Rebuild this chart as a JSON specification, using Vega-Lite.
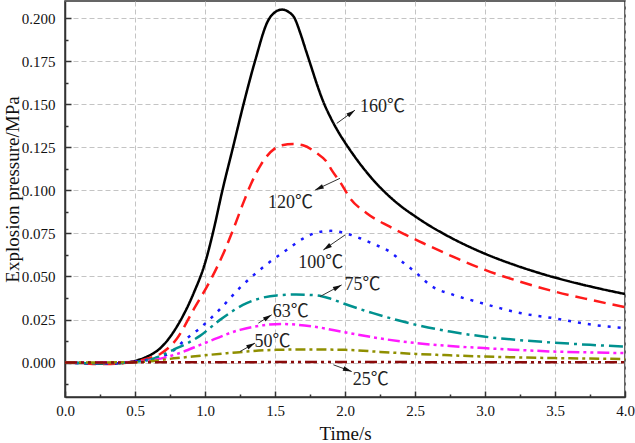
{
  "$schema": "https://vega.github.io/schema/vega-lite/v6.json",
  "width": 560,
  "height": 396,
  "autosize": "none",
  "padding": {"left": 65, "top": 1, "right": 10, "bottom": 46},
  "background": "white",
  "config": {
    "view": {"stroke": "#333", "strokeWidth": 1.5},
    "font": "Liberation Serif",
    "axis": {
      "labelFont": "Liberation Serif",
      "labelFontSize": 15,
      "labelColor": "#111",
      "titleFont": "Liberation Serif",
      "titleFontSize": 19,
      "titleFontWeight": "normal",
      "titleColor": "#111",
      "domainColor": "#333",
      "domainWidth": 1.5,
      "tickColor": "#333",
      "tickWidth": 1.5,
      "gridColor": "#c4c4c4",
      "gridDash": [5, 3],
      "gridWidth": 1
    }
  },
  "datasets": {
    "curves": [
      {"s": "160℃", "t": 0.0, "p": 0.0},
      {"s": "160℃", "t": 0.1, "p": -0.0002},
      {"s": "160℃", "t": 0.2, "p": -0.0005},
      {"s": "160℃", "t": 0.3, "p": -0.0006},
      {"s": "160℃", "t": 0.4, "p": -0.0003},
      {"s": "160℃", "t": 0.5, "p": 0.001},
      {"s": "160℃", "t": 0.6, "p": 0.004},
      {"s": "160℃", "t": 0.68, "p": 0.0083},
      {"s": "160℃", "t": 0.8, "p": 0.021},
      {"s": "160℃", "t": 0.92, "p": 0.0405},
      {"s": "160℃", "t": 1.0, "p": 0.0577},
      {"s": "160℃", "t": 1.07, "p": 0.08},
      {"s": "160℃", "t": 1.12, "p": 0.0985},
      {"s": "160℃", "t": 1.2, "p": 0.125},
      {"s": "160℃", "t": 1.275, "p": 0.15},
      {"s": "160℃", "t": 1.357, "p": 0.175},
      {"s": "160℃", "t": 1.45, "p": 0.1985},
      {"s": "160℃", "t": 1.5, "p": 0.2035},
      {"s": "160℃", "t": 1.55, "p": 0.205},
      {"s": "160℃", "t": 1.6, "p": 0.2035},
      {"s": "160℃", "t": 1.64, "p": 0.2},
      {"s": "160℃", "t": 1.68, "p": 0.1915},
      {"s": "160℃", "t": 1.72, "p": 0.1815},
      {"s": "160℃", "t": 1.76, "p": 0.1715},
      {"s": "160℃", "t": 1.8, "p": 0.1615},
      {"s": "160℃", "t": 1.845, "p": 0.1515},
      {"s": "160℃", "t": 1.9, "p": 0.1418},
      {"s": "160℃", "t": 1.95, "p": 0.1343},
      {"s": "160℃", "t": 2.0, "p": 0.1278},
      {"s": "160℃", "t": 2.05, "p": 0.1218},
      {"s": "160℃", "t": 2.1, "p": 0.1162},
      {"s": "160℃", "t": 2.2, "p": 0.1062},
      {"s": "160℃", "t": 2.3, "p": 0.0978},
      {"s": "160℃", "t": 2.4, "p": 0.0908},
      {"s": "160℃", "t": 2.5, "p": 0.085},
      {"s": "160℃", "t": 2.6, "p": 0.0797},
      {"s": "160℃", "t": 2.7, "p": 0.075},
      {"s": "160℃", "t": 2.8, "p": 0.0707},
      {"s": "160℃", "t": 3.0, "p": 0.0632},
      {"s": "160℃", "t": 3.2, "p": 0.057},
      {"s": "160℃", "t": 3.4, "p": 0.0517},
      {"s": "160℃", "t": 3.6, "p": 0.0472},
      {"s": "160℃", "t": 3.8, "p": 0.0433},
      {"s": "160℃", "t": 4.0, "p": 0.0398},

      {"s": "120℃", "t": 0.0, "p": 0.0},
      {"s": "120℃", "t": 0.1, "p": -0.0003},
      {"s": "120℃", "t": 0.2, "p": -0.0008},
      {"s": "120℃", "t": 0.3, "p": -0.0008},
      {"s": "120℃", "t": 0.4, "p": -0.0004},
      {"s": "120℃", "t": 0.5, "p": 0.0006},
      {"s": "120℃", "t": 0.6, "p": 0.0025},
      {"s": "120℃", "t": 0.68, "p": 0.005},
      {"s": "120℃", "t": 0.8, "p": 0.014},
      {"s": "120℃", "t": 0.92, "p": 0.031},
      {"s": "120℃", "t": 1.04, "p": 0.048},
      {"s": "120℃", "t": 1.14, "p": 0.065},
      {"s": "120℃", "t": 1.2, "p": 0.077},
      {"s": "120℃", "t": 1.27, "p": 0.092},
      {"s": "120℃", "t": 1.33, "p": 0.104},
      {"s": "120℃", "t": 1.4, "p": 0.115},
      {"s": "120℃", "t": 1.5, "p": 0.1244},
      {"s": "120℃", "t": 1.55, "p": 0.1262},
      {"s": "120℃", "t": 1.63, "p": 0.1269},
      {"s": "120℃", "t": 1.7, "p": 0.1262},
      {"s": "120℃", "t": 1.8, "p": 0.1215},
      {"s": "120℃", "t": 1.87, "p": 0.1165},
      {"s": "120℃", "t": 1.905, "p": 0.1118},
      {"s": "120℃", "t": 1.964, "p": 0.105},
      {"s": "120℃", "t": 2.036, "p": 0.0955},
      {"s": "120℃", "t": 2.155, "p": 0.0867},
      {"s": "120℃", "t": 2.32, "p": 0.0789},
      {"s": "120℃", "t": 2.56, "p": 0.0693},
      {"s": "120℃", "t": 2.8, "p": 0.0605},
      {"s": "120℃", "t": 3.0, "p": 0.0538},
      {"s": "120℃", "t": 3.25, "p": 0.047},
      {"s": "120℃", "t": 3.5, "p": 0.0412},
      {"s": "120℃", "t": 3.75, "p": 0.0365},
      {"s": "120℃", "t": 4.0, "p": 0.0322},

      {"s": "100℃", "t": 0.0, "p": 0.0},
      {"s": "100℃", "t": 0.2, "p": -0.0006},
      {"s": "100℃", "t": 0.4, "p": -0.0003},
      {"s": "100℃", "t": 0.5, "p": 0.0005},
      {"s": "100℃", "t": 0.6, "p": 0.0018},
      {"s": "100℃", "t": 0.75, "p": 0.0055},
      {"s": "100℃", "t": 0.857, "p": 0.0132},
      {"s": "100℃", "t": 0.964, "p": 0.02},
      {"s": "100℃", "t": 1.095, "p": 0.03},
      {"s": "100℃", "t": 1.25, "p": 0.0435},
      {"s": "100℃", "t": 1.44, "p": 0.057},
      {"s": "100℃", "t": 1.583, "p": 0.0654},
      {"s": "100℃", "t": 1.7, "p": 0.072},
      {"s": "100℃", "t": 1.8, "p": 0.0755},
      {"s": "100℃", "t": 1.9, "p": 0.0765},
      {"s": "100℃", "t": 2.0, "p": 0.0752},
      {"s": "100℃", "t": 2.107, "p": 0.0722},
      {"s": "100℃", "t": 2.2, "p": 0.069},
      {"s": "100℃", "t": 2.32, "p": 0.0644},
      {"s": "100℃", "t": 2.417, "p": 0.058},
      {"s": "100℃", "t": 2.512, "p": 0.0519},
      {"s": "100℃", "t": 2.607, "p": 0.045},
      {"s": "100℃", "t": 2.774, "p": 0.0393},
      {"s": "100℃", "t": 2.94, "p": 0.0354},
      {"s": "100℃", "t": 3.107, "p": 0.0316},
      {"s": "100℃", "t": 3.26, "p": 0.0286},
      {"s": "100℃", "t": 3.488, "p": 0.0258},
      {"s": "100℃", "t": 3.774, "p": 0.0219},
      {"s": "100℃", "t": 4.0, "p": 0.02},

      {"s": "75℃", "t": 0.0, "p": 0.0},
      {"s": "75℃", "t": 0.2, "p": -0.0004},
      {"s": "75℃", "t": 0.4, "p": -0.0002},
      {"s": "75℃", "t": 0.5, "p": 0.0004},
      {"s": "75℃", "t": 0.6, "p": 0.0015},
      {"s": "75℃", "t": 0.774, "p": 0.0074},
      {"s": "75℃", "t": 0.964, "p": 0.0155},
      {"s": "75℃", "t": 1.107, "p": 0.0248},
      {"s": "75℃", "t": 1.298, "p": 0.0345},
      {"s": "75℃", "t": 1.512, "p": 0.039},
      {"s": "75℃", "t": 1.65, "p": 0.0395},
      {"s": "75℃", "t": 1.8, "p": 0.039},
      {"s": "75℃", "t": 1.9, "p": 0.037},
      {"s": "75℃", "t": 2.0, "p": 0.034},
      {"s": "75℃", "t": 2.2, "p": 0.0287},
      {"s": "75℃", "t": 2.51, "p": 0.0219},
      {"s": "75℃", "t": 2.75, "p": 0.018},
      {"s": "75℃", "t": 2.99, "p": 0.0151},
      {"s": "75℃", "t": 3.25, "p": 0.013},
      {"s": "75℃", "t": 3.488, "p": 0.0116},
      {"s": "75℃", "t": 3.75, "p": 0.0103},
      {"s": "75℃", "t": 4.0, "p": 0.0093},

      {"s": "63℃", "t": 0.0, "p": 0.0},
      {"s": "63℃", "t": 0.5, "p": 0.0003},
      {"s": "63℃", "t": 0.6, "p": 0.001},
      {"s": "63℃", "t": 0.8, "p": 0.005},
      {"s": "63℃", "t": 0.988, "p": 0.011},
      {"s": "63℃", "t": 1.25, "p": 0.019},
      {"s": "63℃", "t": 1.44, "p": 0.0219},
      {"s": "63℃", "t": 1.55, "p": 0.0224},
      {"s": "63℃", "t": 1.774, "p": 0.0209},
      {"s": "63℃", "t": 2.0, "p": 0.0176},
      {"s": "63℃", "t": 2.25, "p": 0.014},
      {"s": "63℃", "t": 2.51, "p": 0.0113},
      {"s": "63℃", "t": 2.75, "p": 0.0096},
      {"s": "63℃", "t": 2.99, "p": 0.0084},
      {"s": "63℃", "t": 3.25, "p": 0.0073},
      {"s": "63℃", "t": 3.488, "p": 0.0064},
      {"s": "63℃", "t": 3.75, "p": 0.0059},
      {"s": "63℃", "t": 4.0, "p": 0.0055},

      {"s": "50℃", "t": 0.0, "p": 0.0},
      {"s": "50℃", "t": 0.5, "p": 0.0002},
      {"s": "50℃", "t": 0.8, "p": 0.0026},
      {"s": "50℃", "t": 1.155, "p": 0.0054},
      {"s": "50℃", "t": 1.512, "p": 0.0074},
      {"s": "50℃", "t": 1.75, "p": 0.0076},
      {"s": "50℃", "t": 2.0, "p": 0.0074},
      {"s": "50℃", "t": 2.25, "p": 0.0062},
      {"s": "50℃", "t": 2.51, "p": 0.005},
      {"s": "50℃", "t": 2.75, "p": 0.0042},
      {"s": "50℃", "t": 2.99, "p": 0.0035},
      {"s": "50℃", "t": 3.25, "p": 0.003},
      {"s": "50℃", "t": 3.49, "p": 0.0026},
      {"s": "50℃", "t": 3.75, "p": 0.0023},
      {"s": "50℃", "t": 4.0, "p": 0.0021},

      {"s": "25℃", "t": 0.0, "p": 0.0},
      {"s": "25℃", "t": 1.0, "p": 0.0002},
      {"s": "25℃", "t": 2.0, "p": 0.0003},
      {"s": "25℃", "t": 3.0, "p": 0.0002},
      {"s": "25℃", "t": 4.0, "p": 0.0002}
    ],
    "notes": [
      {"label": "160℃", "t1": 1.941, "p1": 0.1389, "t2": 2.071, "p2": 0.1466, "lx": 2.268, "ly": 0.1485, "dir": 54},
      {"label": "120℃", "t1": 1.964, "p1": 0.107, "t2": 1.786, "p2": 0.1002, "lx": 1.611, "ly": 0.0929, "dir": 245},
      {"label": "100℃", "t1": 2.0, "p1": 0.0741, "t2": 1.845, "p2": 0.0654, "lx": 1.827, "ly": 0.0581, "dir": 235},
      {"label": "75℃", "t1": 1.821, "p1": 0.0383, "t2": 1.976, "p2": 0.0451, "lx": 2.125, "ly": 0.0448, "dir": 62},
      {"label": "63℃", "t1": 1.381, "p1": 0.0229, "t2": 1.476, "p2": 0.0277, "lx": 1.613, "ly": 0.0291, "dir": 58},
      {"label": "50℃", "t1": 1.25, "p1": 0.0064, "t2": 1.357, "p2": 0.0113, "lx": 1.482, "ly": 0.0117, "dir": 61},
      {"label": "25℃", "t1": 1.917, "p1": -0.0013, "t2": 2.048, "p2": -0.0052, "lx": 2.184, "ly": -0.0103, "dir": 110}
    ]
  },
  "layer": [
    {
      "data": {"name": "curves"},
      "mark": {"type": "line", "strokeWidth": 2.5, "interpolate": "monotone", "clip": true},
      "encoding": {
        "x": {
          "field": "t", "type": "quantitative",
          "scale": {"domain": [0, 4], "nice": false, "zero": false},
          "axis": {
            "title": "Time/s",
            "values": [0, 0.25, 0.5, 0.75, 1, 1.25, 1.5, 1.75, 2, 2.25, 2.5, 2.75, 3, 3.25, 3.5, 3.75, 4],
            "tickCount": 100,
            "labelExpr": "abs(datum.value*2 - round(datum.value*2)) < 0.001 ? format(datum.value, '.1f') : ''",
            "tickSize": {"condition": {"test": "abs(datum.value*2 - round(datum.value*2)) < 0.001", "value": -6}, "value": -3},
            "gridOpacity": {"condition": {"test": "abs(datum.value*2 - round(datum.value*2)) < 0.001", "value": 1}, "value": 0},
            "labelPadding": 12,
            "labelFlush": false,
            "labelOverlap": false,
            "titleBaseline": "alphabetic",
            "titleY": 42
          }
        },
        "y": {
          "field": "p", "type": "quantitative",
          "scale": {"domain": [-0.02, 0.21], "nice": false, "zero": false},
          "axis": {
            "title": "Explosion pressure/MPa",
            "values": [-0.0125, 0, 0.0125, 0.025, 0.0375, 0.05, 0.0625, 0.075, 0.0875, 0.1, 0.1125, 0.125, 0.1375, 0.15, 0.1625, 0.175, 0.1875, 0.2],
            "tickCount": 100,
            "labelExpr": "abs(datum.value*40 - round(datum.value*40)) < 0.01 ? format(datum.value, '.3f') : ''",
            "tickSize": {"condition": {"test": "abs(datum.value*40 - round(datum.value*40)) < 0.01", "value": -6}, "value": -3},
            "gridOpacity": {"condition": {"test": "abs(datum.value*40 - round(datum.value*40)) < 0.01", "value": 1}, "value": 0},
            "labelPadding": 16,
            "labelFlush": false,
            "labelOverlap": false,
            "titleX": -53,
            "titleY": 188,
            "titleAngle": 270,
            "titleAlign": "center",
            "titleBaseline": "middle"
          }
        },
        "color": {
          "field": "s", "type": "nominal", "legend": null,
          "scale": {
            "domain": ["160℃", "120℃", "100℃", "75℃", "63℃", "50℃", "25℃"],
            "range": ["#000000", "#ff1a1a", "#1a1aff", "#00918f", "#ff1aff", "#8f8f00", "#8b0a0a"]
          }
        },
        "strokeDash": {
          "field": "s", "type": "nominal", "legend": null,
          "scale": {
            "domain": ["160℃", "120℃", "100℃", "75℃", "63℃", "50℃", "25℃"],
            "range": [[1, 0], [12, 7], [3, 7], [14, 5, 3, 5], [12, 4, 3, 4, 3, 4], [10, 4, 3, 4], [12, 4, 3, 4, 3, 4]]
          }
        }
      }
    },
    {
      "data": {"name": "notes"},
      "mark": {"type": "rule", "color": "#333", "strokeWidth": 1},
      "encoding": {
        "x": {"field": "t1", "type": "quantitative"},
        "y": {"field": "p1", "type": "quantitative"},
        "x2": {"field": "t2"},
        "y2": {"field": "p2"}
      }
    },
    {
      "data": {"name": "notes"},
      "mark": {"type": "point", "shape": "M0,0L0.6,2.2L-0.6,2.2Z", "filled": true, "size": 64, "color": "#111", "opacity": 1},
      "encoding": {
        "x": {"field": "t2", "type": "quantitative"},
        "y": {"field": "p2", "type": "quantitative"},
        "angle": {"field": "dir", "type": "quantitative", "scale": null}
      }
    },
    {
      "data": {"name": "notes"},
      "mark": {"type": "text", "font": "Liberation Serif, Noto Sans CJK SC", "fontSize": 18, "color": "#222", "align": "center", "baseline": "middle"},
      "encoding": {
        "x": {"field": "lx", "type": "quantitative"},
        "y": {"field": "ly", "type": "quantitative"},
        "text": {"field": "label"}
      }
    }
  ]
}
